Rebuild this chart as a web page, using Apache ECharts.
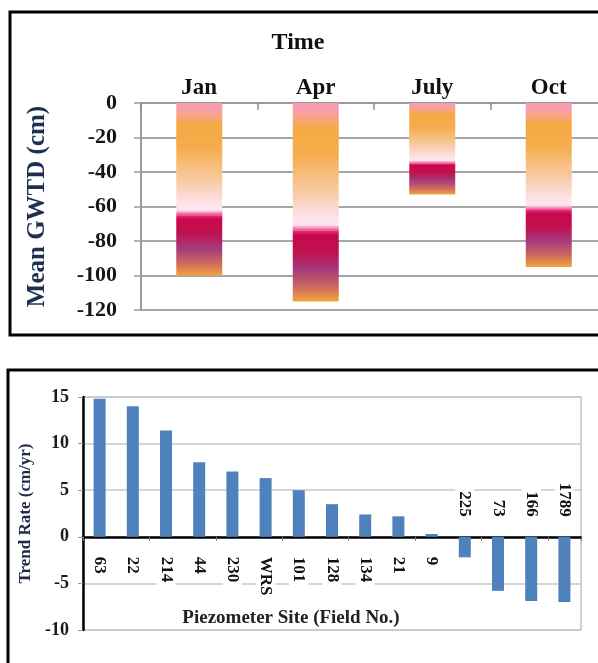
<!DOCTYPE html>
<html>
<head>
<meta charset="utf-8">
<script src="https://cdn.jsdelivr.net/npm/echarts@6/dist/echarts.min.js"></script>
<style>
html,body{margin:0;padding:0;background:#fff;}
#chart{width:598px;height:663px;}
</style>
</head>
<body>
<div id="chart"></div>
<script>
// ---- Data (top panel) ----
const months = ['Jan', 'Apr', 'July', 'Oct'];
const upperDepth = [-65, -74, -35, -62];   // upper (light) band, cm
const lowerDepth = [-35, -41, -18, -33];   // lower (dark) band, cm (stacked below)
const depthAxis = { min: -120, max: 0, interval: 20 };

// ---- Data (bottom panel) ----
const sites = ['63', '22', '214', '44', '230', 'WRS', '101', '128', '134', '21', '9', '225', '73', '166', '1789'];
const trendRates = [14.8, 14.0, 11.4, 8.0, 7.0, 6.3, 5.0, 3.5, 2.4, 2.2, 0.3, -2.2, -5.8, -6.9, -7.0];
const trendAxis = { min: -10, max: 15, interval: 5 };

const FONT = 'Liberation Serif';
const chart = echarts.init(document.getElementById('chart'), null, { renderer: 'canvas' });

const upperGrad = new echarts.graphic.LinearGradient(0, 0, 0, 1, [
  { offset: 0, color: '#f89bb6' },
  { offset: 0.07, color: '#f7a1a6' },
  { offset: 0.2, color: '#f5a942' },
  { offset: 0.4, color: '#f5ad4c' },
  { offset: 0.7, color: '#f8cba6' },
  { offset: 0.9, color: '#fde3ea' },
  { offset: 0.955, color: '#fde6ee' },
  { offset: 1, color: '#f0458c' }
]);
const lowerGrad = new echarts.graphic.LinearGradient(0, 0, 0, 1, [
  { offset: 0, color: '#ea2c7c' },
  { offset: 0.07, color: '#c8084a' },
  { offset: 0.3, color: '#c0124f' },
  { offset: 0.55, color: '#a53a7e' },
  { offset: 0.8, color: '#cd6a5e' },
  { offset: 1, color: '#f2a53c' }
]);

const option = {
  animation: false,
  textStyle: { fontFamily: FONT },
  graphic: [
    { type: 'rect', shape: { x: 10, y: 12, width: 700, height: 323 }, style: { fill: null, stroke: '#000', lineWidth: 3 }, z: 10 },
    { type: 'rect', shape: { x: 8, y: 370, width: 700, height: 400 }, style: { fill: null, stroke: '#000', lineWidth: 3 }, z: 10 },
    { type: 'text', x: 298, y: 43, style: { text: 'Time', fontFamily: FONT, fontSize: 24, fontWeight: 'bold', fill: '#111', align: 'center', verticalAlign: 'middle' }, z: 10 },
    { type: 'text', x: 291, y: 618, style: { text: 'Piezometer Site (Field No.)', fontFamily: FONT, fontSize: 19, fontWeight: 'bold', fill: '#222', align: 'center', verticalAlign: 'middle' }, z: 10 }
  ],
  grid: [
    { left: 141, right: -9, top: 103, bottom: 353, containLabel: false, outerBoundsMode: 'none' },
    { left: 83, right: 17, top: 397, bottom: 33, containLabel: false, outerBoundsMode: 'none',
      show: true, borderColor: '#c4c4c4', borderWidth: 1.5, backgroundColor: 'transparent' }
  ],
  xAxis: [
    {
      gridIndex: 0, type: 'category', data: months, position: 'top',
      axisLine: { show: true, onZero: false, lineStyle: { color: '#9a9a9a', width: 2 } },
      axisTick: { show: true, inside: true, length: 7, lineStyle: { color: '#8a8a8a', width: 1.5 } },
      axisLabel: { interval: 0, fontFamily: FONT, fontSize: 23, fontWeight: 'bold', color: '#111', margin: 3 },
      splitLine: { show: false }
    },
    {
      gridIndex: 1, type: 'category', data: sites,
      axisLine: { show: true, onZero: true, lineStyle: { color: '#000', width: 2.5 } },
      axisTick: { show: true, length: 4, lineStyle: { color: '#777', width: 1 } },
      axisLabel: { show: false },
      splitLine: { show: false }
    }
  ],
  yAxis: [
    {
      gridIndex: 0, type: 'value', min: depthAxis.min, max: depthAxis.max, interval: depthAxis.interval,
      name: 'Mean GWTD (cm)', nameLocation: 'middle', nameGap: 91, nameRotate: 90,
      nameTextStyle: { fontFamily: FONT, fontSize: 25, fontWeight: 'bold', color: '#1f2f4f' },
      axisLine: { show: true, lineStyle: { color: '#9a9a9a', width: 2 } },
      axisTick: { show: true, length: 7, lineStyle: { color: '#9a9a9a', width: 1.5 } },
      axisLabel: { fontFamily: FONT, fontSize: 22, fontWeight: 'bold', color: '#151515', margin: 24 },
      splitLine: { show: true, lineStyle: { color: '#a6a6a6', width: 2 } }
    },
    {
      gridIndex: 1, type: 'value', min: trendAxis.min, max: trendAxis.max, interval: trendAxis.interval,
      name: 'Trend Rate (cm/yr)', nameLocation: 'middle', nameGap: 47, nameRotate: 90,
      nameTextStyle: { fontFamily: FONT, fontSize: 17, fontWeight: 'bold', color: '#1f2a45' },
      axisLine: { show: true, lineStyle: { color: '#000', width: 2.5 } },
      axisTick: { show: true, length: 5, lineStyle: { color: '#999', width: 1 } },
      axisLabel: { fontFamily: FONT, fontSize: 18, fontWeight: 'bold', color: '#1a1a1a', margin: 14 },
      splitLine: { show: true, lineStyle: { color: '#c8c8c8', width: 1.5 } }
    }
  ],
  series: [
    {
      type: 'bar', xAxisIndex: 0, yAxisIndex: 0, stack: 'gwtd', barWidth: 46,
      data: upperDepth, itemStyle: { color: upperGrad }
    },
    {
      type: 'bar', xAxisIndex: 0, yAxisIndex: 0, stack: 'gwtd', barWidth: 46,
      data: lowerDepth, itemStyle: { color: lowerGrad }
    },
    {
      type: 'bar', xAxisIndex: 1, yAxisIndex: 1, barWidth: 12,
      itemStyle: { color: '#4f81bd' },
      data: trendRates.map(v => ({
        value: v,
        label: { position: v >= 0 ? 'bottom' : 'top', align: v >= 0 ? 'left' : 'right' }
      })),
      label: {
        show: true, rotate: -90, distance: 12, verticalAlign: 'middle',
        formatter: p => sites[p.dataIndex],
        fontFamily: FONT, fontSize: 17, fontWeight: 'bold', color: '#111',
        backgroundColor: '#fff', padding: [1, 8, 1, 8]
      }
    }
  ]
};
chart.setOption(option);
</script>
</body>
</html>
